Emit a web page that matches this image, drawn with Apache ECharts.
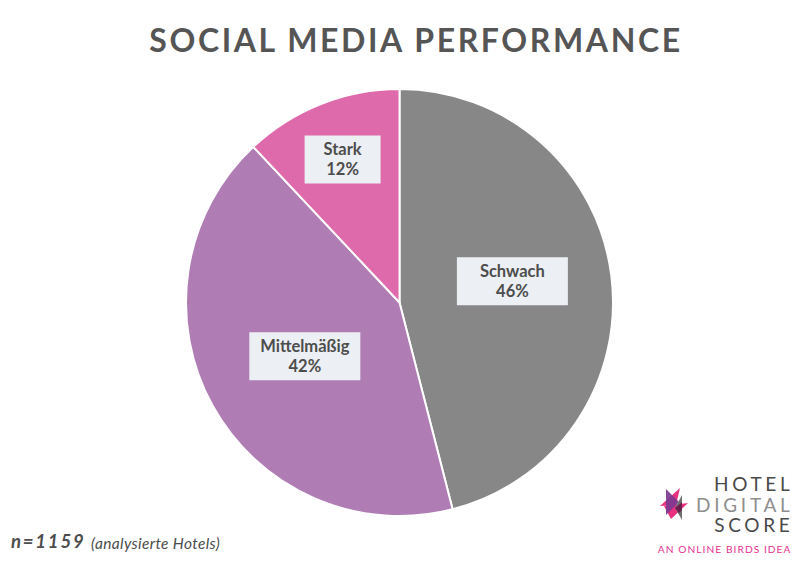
<!DOCTYPE html>
<html><head><meta charset="utf-8">
<style>
html,body{margin:0;padding:0;background:#fff}
#c{width:800px;height:564px}
text[style*="32px"]{letter-spacing:2.6px}
text[style*="19px"]{letter-spacing:3.7px}
text[style*="10.2px"]{letter-spacing:1.05px}
text[style*="18.5px"]{letter-spacing:1.8px}
text[style*="15.5px"]{letter-spacing:.35px}
</style>
<script src="https://cdn.jsdelivr.net/npm/echarts@6/dist/echarts.min.js"></script>
</head><body><div id="c"></div>
<script>
const categories = ['Schwach', 'Mittelmäßig', 'Stark'];
const shares = [46, 42, 12];
const colors = ['#878787', '#af7db4', '#de69ab'];
const labelNudges = [[4, -7.5], [1.5, 1], [-16.5, -41]];
const boxWidths = [111, 111, 76];

const chart = echarts.init(document.getElementById('c'), null, {renderer: 'svg'});
const poly = (pts, fill, opacity) => ({type: 'polygon', shape: {points: pts}, style: {fill, opacity: opacity === undefined ? 1 : opacity}});
const txt = (text, x, y, font, fill, align) => ({type: 'text', x, y, style: {text, font, fill, align: align || 'left', verticalAlign: 'middle', lineHeight: 16}});
chart.setOption({
  animation: false,
  backgroundColor: '#fff',
  title: {
    text: 'SOCIAL MEDIA PERFORMANCE', left: 411, top: 18, textAlign: 'center',
    textStyle: {fontFamily: 'Lato', fontWeight: 'bold', fontSize: 32, color: '#555555'}
  },
  series: [{
    type: 'pie', center: [399.5, 302.5], radius: [0, 213.5], startAngle: 90, clockwise: true,
    silent: true,
    data: categories.map((name, i) => ({
      name, value: shares[i],
      itemStyle: {color: colors[i]},
      label: {width: boxWidths[i], height: 48}
    })),
    itemStyle: {borderColor: '#fff', borderWidth: 2},
    label: {
      show: true, position: 'inside', formatter: p => p.name + '\n' + p.value + '%',
      backgroundColor: '#eceff4', color: '#4d4d4d', fontFamily: 'Lato', fontWeight: 'bold',
      fontSize: 16.5, lineHeight: 20, align: 'center', verticalAlign: 'middle'
    },
    labelLine: {show: false},
    labelLayout: p => ({dx: labelNudges[p.dataIndex][0], dy: labelNudges[p.dataIndex][1]})
  }],
  graphic: [
    txt('n=1159', 11, 541, 'italic bold 18.5px Lato', '#4d4d4d'),
    txt('(analysierte Hotels)', 91, 543, 'italic 15.5px Lato', '#4d4d4d'),
    txt('HOTEL', 793.5, 483, '19px Lato', '#4a4a4a', 'right'),
    txt('DIGITAL', 793.5, 504, '19px Lato', '#8e8e8e', 'right'),
    txt('SCORE', 793.5, 524.5, '19px Lato', '#4a4a4a', 'right'),
    txt('AN ONLINE BIRDS IDEA', 791.5, 548.5, '10.2px Lato', '#e6308f', 'right'),
    poly([[680,488],[660,506],[676,505]], '#e8307f'),
    poly([[688,503],[671,519],[664,506]], '#e8307f'),
    poly([[666,489],[666,515],[679,502]], '#7d3a92', 0.92),
    poly([[682,495],[682,520],[675,508]], '#6f6f6f'),
    poly([[682,502],[675,508],[679,513],[682,510]], '#6b1f4f')
  ]
});
</script></body></html>
